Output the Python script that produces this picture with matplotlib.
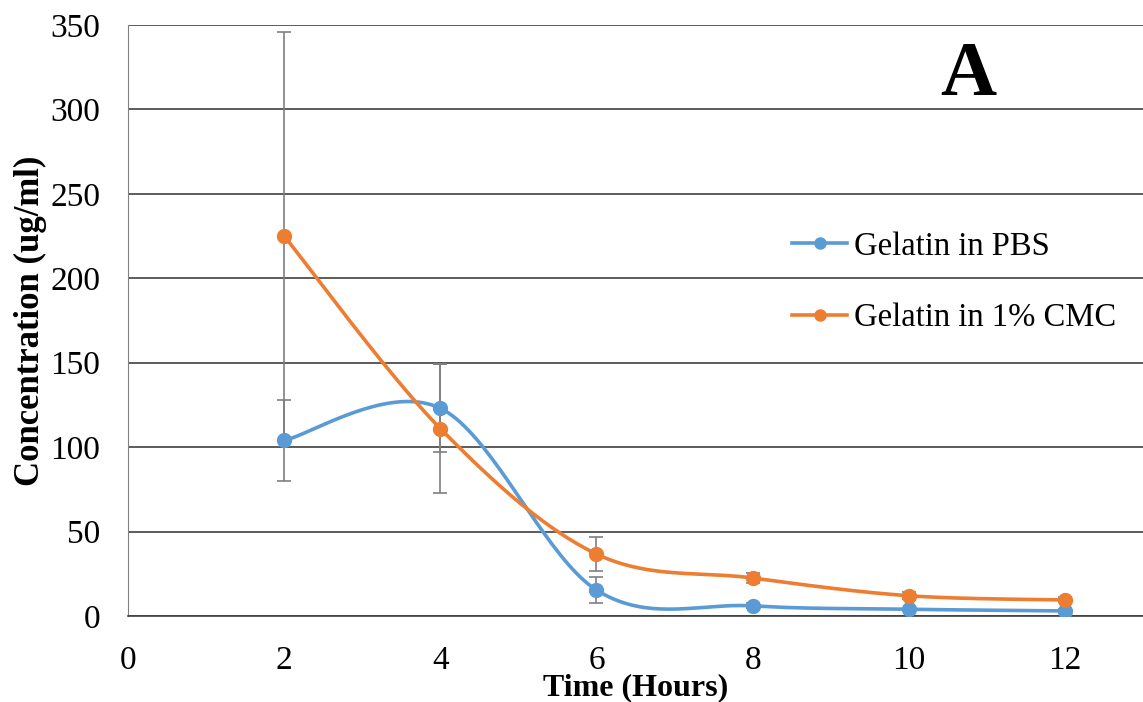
import matplotlib
matplotlib.use('Agg')
import matplotlib.pyplot as plt
import numpy as np

# release data, mean +/- error
hours = [2, 4, 6, 8, 10, 12]
pbs = [104, 123, 15.4, 6, 4, 3]
pbs_err = [24, 26, 7.5, 1.5, 1, 1]
cmc = [225, 111, 36.7, 22.5, 12, 9.5]
cmc_err = [121, 38, 10, 3, 2, 1.5]

blue = '#5B9BD5'
orange = '#ED7D31'


def smooth(x, y, n=40):
    # Catmull-Rom style bezier, similar to spreadsheet "smoothed line"
    x = np.asarray(x, float)
    y = np.asarray(y, float)
    px, py = [], []
    for i in range(len(x) - 1):
        x0, y0 = (x[i - 1], y[i - 1]) if i > 0 else (x[i], y[i])
        x3, y3 = (x[i + 2], y[i + 2]) if i + 2 < len(x) else (x[i + 1], y[i + 1])
        c1x = x[i] + (x[i + 1] - x0) / 6
        c1y = y[i] + (y[i + 1] - y0) / 6
        c2x = x[i + 1] - (x3 - x[i]) / 6
        c2y = y[i + 1] - (y3 - y[i]) / 6
        t = np.linspace(0, 1, n)
        bx = (1-t)**3*x[i] + 3*(1-t)**2*t*c1x + 3*(1-t)*t**2*c2x + t**3*x[i+1]
        by = (1-t)**3*y[i] + 3*(1-t)**2*t*c1y + 3*(1-t)*t**2*c2y + t**3*y[i+1]
        px.extend(bx)
        py.extend(by)
    return px, py


plt.rcParams['font.family'] = 'Liberation Serif'

fig = plt.figure(figsize=(11.43, 7.02), dpi=100)
ax = fig.add_axes([0.112, 0.1225, 0.888, 0.842])

for ys, es in [(pbs, pbs_err), (cmc, cmc_err)]:
    ax.errorbar(hours, ys, yerr=es, fmt='none', ecolor='#7f7f7f',
                elinewidth=1.2, capsize=5, capthick=1.2, zorder=2)

for ys, col, lab in [(pbs, blue, 'Gelatin in PBS'), (cmc, orange, 'Gelatin in 1% CMC')]:
    sx, sy = smooth(hours, ys)
    ax.plot(sx, sy, color=col, lw=2.6, zorder=3)
    ax.plot(hours, ys, 'o', color=col, ms=10, zorder=4)
    # legend handle
    ax.plot([], [], '-o', color=col, lw=2.6, ms=8, label=lab)

ax.set_xlim(0, 13)
ax.set_ylim(0, 350)
ax.set_xticks(range(0, 13, 2))
ax.set_yticks(range(0, 351, 50))
ax.yaxis.grid(True, color='#404040', lw=1.2)
ax.set_axisbelow(True)
for s in ['top', 'right']:
    ax.spines[s].set_visible(False)
ax.spines['left'].set_color('#808080')
ax.spines['bottom'].set_color('#404040')
ax.spines['bottom'].set_linewidth(1.2)
ax.tick_params(length=0, labelsize=24)
ax.tick_params(axis='x', pad=21)
ax.tick_params(axis='y', pad=20)

ax.set_xlabel('Time (Hours)', fontsize=23, fontweight='bold', labelpad=-2)
ax.set_ylabel('Concentration (ug/ml)', fontsize=25, fontweight='bold', labelpad=2)

ax.text(0.828, 0.913, 'A', transform=ax.transAxes, fontsize=56,
        fontweight='bold', ha='center', va='center')

ax.legend(loc='center left', bbox_to_anchor=(0.654, 0.565), frameon=False,
          fontsize=23.5, handlelength=1.7, labelspacing=1.25, handletextpad=0.2,
          borderpad=0, borderaxespad=0)

fig.savefig('out.png', dpi=100)
